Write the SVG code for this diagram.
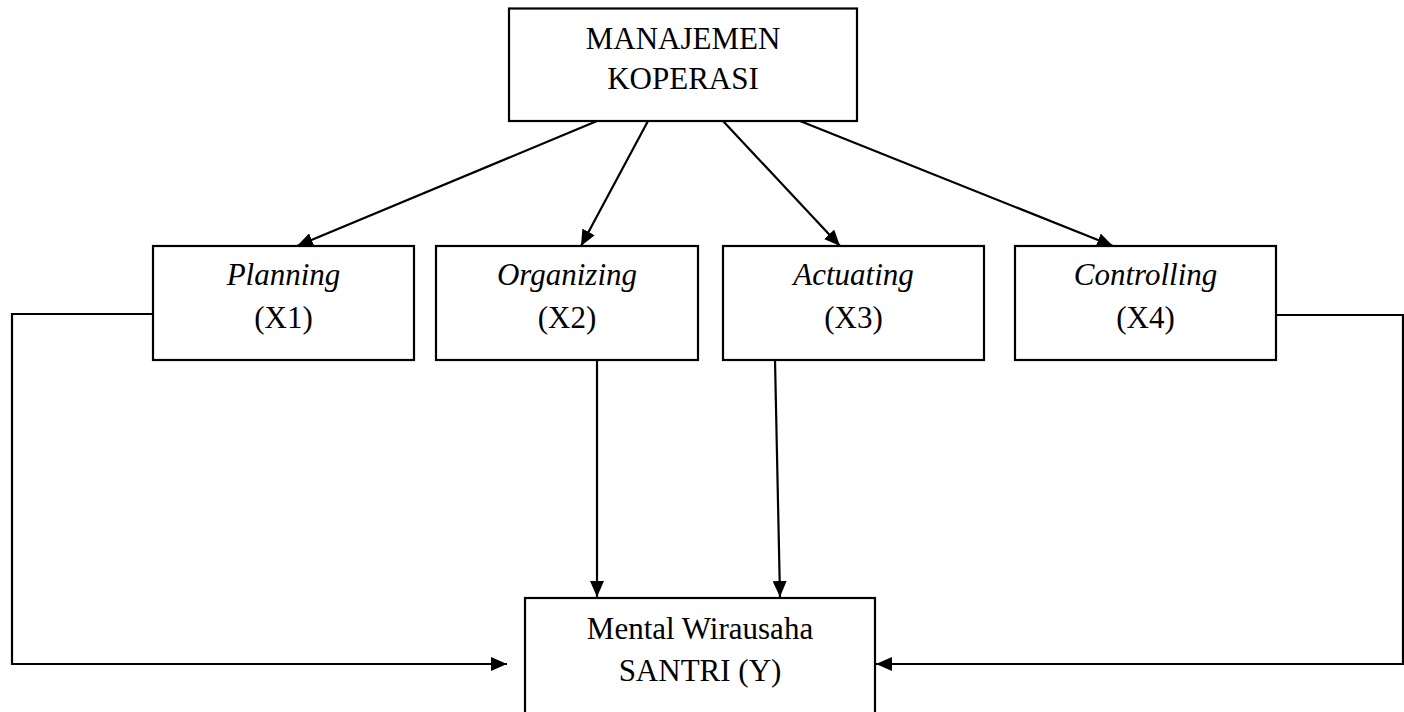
<svg xmlns="http://www.w3.org/2000/svg" width="1404" height="712" viewBox="0 0 1404 712">
<style>
.box{fill:#fff;stroke:#000;stroke-width:2.2}
.t{font-family:"Liberation Serif","Times New Roman",serif;font-size:31px;fill:#000;text-anchor:middle}
.i{font-style:italic}
.c{fill:none;stroke:#000;stroke-width:2.2}
</style>
<defs>
<marker id="ah" viewBox="0 0 16 14" refX="16" refY="7" markerWidth="16" markerHeight="14" markerUnits="userSpaceOnUse" orient="auto">
<path d="M0,0 L16,7 L0,14 Z" fill="#000"/>
</marker>
</defs>
<rect width="1404" height="712" fill="#fff"/>
<g id="connectors">
<line class="c" x1="597" y1="121" x2="297" y2="246" marker-end="url(#ah)"/>
<line class="c" x1="648" y1="121" x2="581" y2="246" marker-end="url(#ah)"/>
<line class="c" x1="723" y1="121" x2="840" y2="246" marker-end="url(#ah)"/>
<line class="c" x1="800" y1="121" x2="1113" y2="246" marker-end="url(#ah)"/>
<line class="c" x1="597" y1="360" x2="597" y2="597" marker-end="url(#ah)"/>
<line class="c" x1="775" y1="360" x2="780" y2="597" marker-end="url(#ah)"/>
<polyline class="c" points="153,314 12,314 12,664 507,664" marker-end="url(#ah)"/>
<polyline class="c" points="1276,315 1403,315 1403,664 876,664" marker-end="url(#ah)"/>
</g>
<g id="manajemen">
<rect class="box" x="509" y="8.5" width="348" height="112.5"/>
<text class="t" x="683" y="49">MANAJEMEN</text>
<text class="t" x="683" y="89">KOPERASI</text>
</g>
<g id="planning">
<rect class="box" x="153" y="246" width="261" height="114"/>
<text class="t i" x="283.5" y="285">Planning</text>
<text class="t" x="283.5" y="328">(X1)</text>
</g>
<g id="organizing">
<rect class="box" x="436" y="246" width="262" height="114"/>
<text class="t i" x="567" y="285">Organizing</text>
<text class="t" x="567" y="328">(X2)</text>
</g>
<g id="actuating">
<rect class="box" x="723" y="246" width="261" height="114"/>
<text class="t i" x="853.5" y="285">Actuating</text>
<text class="t" x="853.5" y="328">(X3)</text>
</g>
<g id="controlling">
<rect class="box" x="1015" y="246" width="261" height="114"/>
<text class="t i" x="1145.5" y="285">Controlling</text>
<text class="t" x="1145.5" y="328">(X4)</text>
</g>
<g id="mental">
<rect class="box" x="525" y="598" width="350" height="130"/>
<text class="t" x="700" y="639">Mental Wirausaha</text>
<text class="t" x="700" y="681">SANTRI (Y)</text>
</g>
</svg>
